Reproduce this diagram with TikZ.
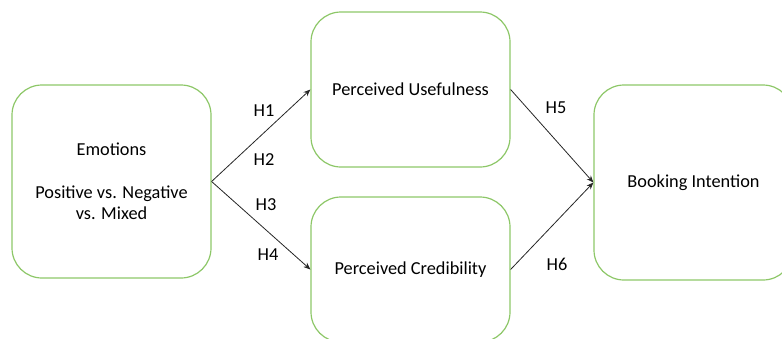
\documentclass[tikz,border=0pt]{standalone}
\usepackage{fontspec}
\setmainfont{Carlito}
\usetikzlibrary{arrows.meta}
\definecolor{boxgreen}{RGB}{141,199,104}
\tikzset{
  concept/.style={draw=boxgreen, line width=1.2pt, rounded corners=30pt,
    minimum width=199pt, inner sep=0pt, align=center,
    font=\fontsize{18.3}{21}\selectfont},
  path/.style={draw=black!85, line width=0.8pt, -{Stealth[length=7pt,width=5.5pt]}},
  hyp/.style={font=\fontsize{18.3}{21}\selectfont}
}
\begin{document}
\begin{tikzpicture}[x=1pt,y=-1pt]
  \useasboundingbox (0,0) rectangle (782,338);
  \clip (0,0) rectangle (782,338);
  % constructs
  \node[concept, minimum height=193pt] (emo) at (111.5,181.5)
    {Emotions\\[22pt]Positive vs. Negative\\vs. Mixed};
  \node[concept, minimum height=155pt] (pu) at (410.5,89.5) {Perceived Usefulness};
  \node[concept, minimum height=145pt] (pc) at (410.5,269.5) {Perceived Credibility};
  \node[concept, minimum height=195pt] (bi) at (693.5,182.5) {Booking Intention};
  % hypothesised paths
  \draw[path] (emo.east) -- (pu.west);
  \draw[path] (emo.east) -- (pc.west);
  \draw[path] (pu.east) -- (bi.west);
  \draw[path] (pc.east) -- (bi.west);
  % hypothesis labels
  \node[hyp] (h1) at (264,111) {H1};
  \node[hyp] (h2) at (264,160) {H2};
  \node[hyp] (h3) at (266,205) {H3};
  \node[hyp] (h4) at (268,255) {H4};
  \node[hyp] (h5) at (556,108) {H5};
  \node[hyp] (h6) at (557,264) {H6};
\end{tikzpicture}
\end{document}
